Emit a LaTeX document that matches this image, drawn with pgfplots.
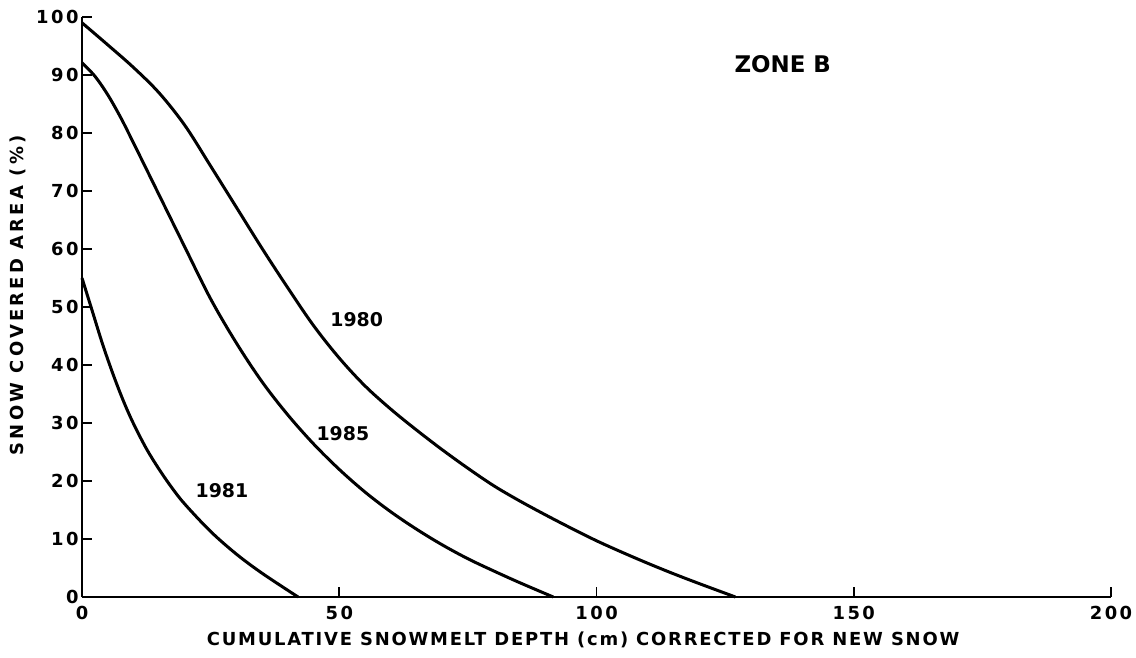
\documentclass[border=0pt]{standalone}
\usepackage{pgfplots}
\pgfplotsset{compat=1.18}
\usepackage{fontspec}
\setmainfont{DejaVu Sans}
\newfontfamily\lab[LetterSpace=10]{DejaVu Sans}
\newfontfamily\ylab[LetterSpace=18]{DejaVu Sans}
\newfontfamily\tck[LetterSpace=14]{DejaVu Sans}
\newfontfamily\ann{DejaVu Sans}
\begin{document}
\begin{tikzpicture}
\path[use as bounding box] (-82bp,-61bp) rectangle (1054bp,597bp);
\begin{axis}[
  scale only axis, width=1029bp, height=580bp,
  xmin=0, xmax=200, ymin=0, ymax=100,
  axis lines*=left,
  axis line style={line width=2bp},
  tick align=inside,
  major tick length=10bp,
  tick style={line width=1.8bp, black},
  xtick={0,50,100,150,200},
  ytick={0,10,...,100},
  /pgf/number format/assume math mode=true,
  ticklabel style={font=\fontsize{18}{18}\selectfont\bfseries\tck},
  xticklabel style={yshift=-6bp},
  yticklabel style={xshift=0bp},
  xlabel={CUMULATIVE SNOWMELT DEPTH (cm) CORRECTED FOR NEW SNOW},
  ylabel={SNOW COVERED AREA (\%)},
  xlabel style={font=\fontsize{18}{18}\selectfont\bfseries\lab, at={(axis description cs:0.487,-0.074)}, anchor=center},
  ylabel style={font=\fontsize{18}{18}\selectfont\bfseries\ylab, at={(axis description cs:-0.0622,0.52)}, anchor=center},
  clip=false,
]
\addplot[black, line width=3bp, smooth, tension=0.55] coordinates {
(0,99) (5,95.2) (10,91.3) (15,86.9) (20,81.3) (25,74.3) (30,67.2) (35,60.1)
(40,53.3) (45,46.8) (50,41.2) (55,36.4) (60,32.4) (65,28.8) (70,25.4) (75,22.2)
(80,19.2) (85,16.6) (90,14.2) (95,11.9) (100,9.7) (105,7.7) (110,5.8)
(115,4.0) (120,2.3) (127,0)
};
\addplot[black, line width=3bp, smooth, tension=0.55] coordinates {
(0,92.1) (2.5,89.8) (5,86.6) (7.5,82.7) (10,78.3) (15,69.3) (20,60.3) (25,51.4)
(30,43.8) (35,37.1) (40,31.4) (45,26.4) (50,22.0) (55,18.1) (60,14.7)
(65,11.7) (70,9.0) (75,6.6) (80,4.5) (85,2.5) (91.6,0)
};
\addplot[black, line width=3bp, smooth, tension=0.55] coordinates {
(0,55) (2,49.3) (4,43.6) (6,38.5) (8,33.9) (10,29.9) (12.5,25.6) (15,22.0)
(17.5,18.8) (20,16.0) (25,11.3) (30,7.4) (35,4.1) (42,0)
};
\node[font=\fontsize{19}{19}\selectfont\bfseries\ann] at (axis cs:53.4,47.8) {1980};
\node[font=\fontsize{19}{19}\selectfont\bfseries\ann] at (axis cs:50.7,28.1) {1985};
\node[font=\fontsize{19}{19}\selectfont\bfseries\ann] at (axis cs:27.2,18.3) {1981};
\node[font=\fontsize{23}{23}\selectfont\bfseries\ann] at (axis cs:136.2,91.9) {ZONE B};
\end{axis}
\end{tikzpicture}
\end{document}
